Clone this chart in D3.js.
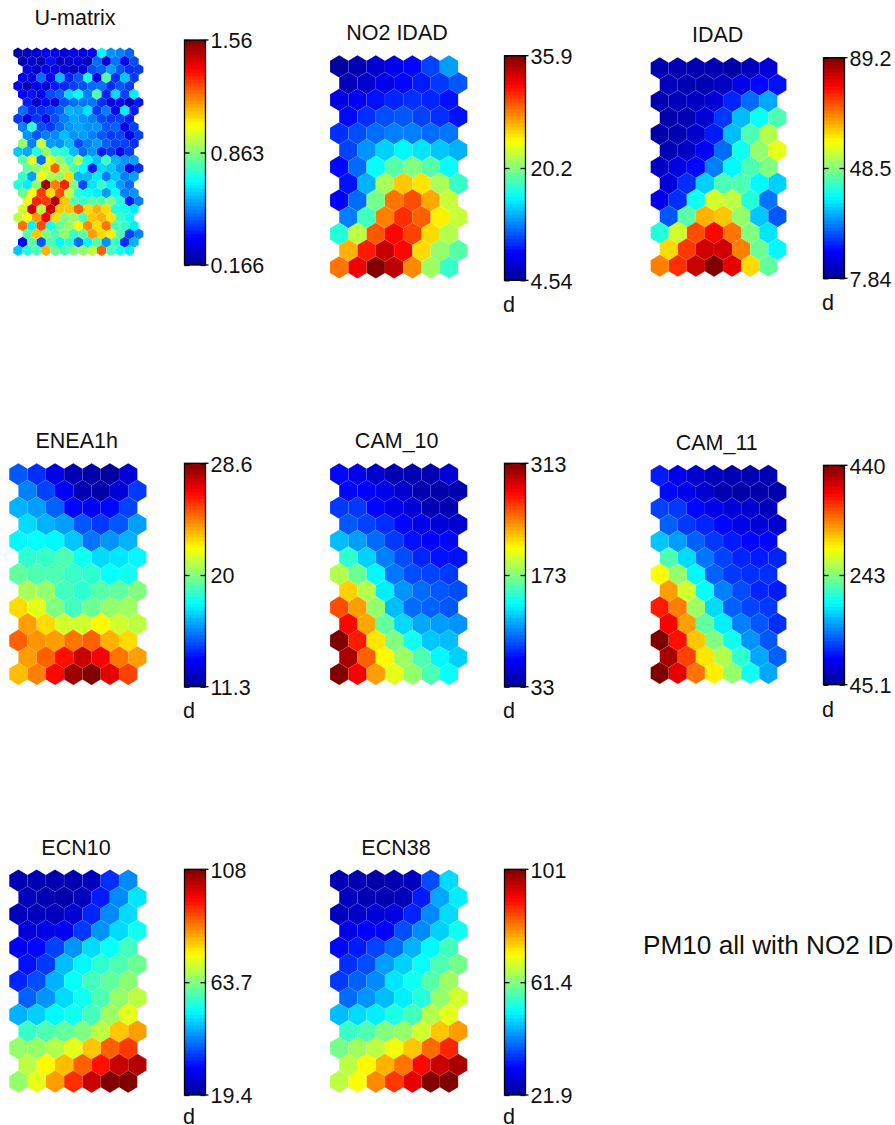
<!DOCTYPE html>
<html>
<head>
<meta charset="utf-8">
<script src="https://cdn.jsdelivr.net/npm/d3@7"></script>
<style type="text/css">
    body { margin: 0; background: #fff; }
    svg { display: block; }
    text { font-family: "Liberation Sans", Arial, sans-serif; fill: #111; }
</style>
</head>
<body>
<div id="viz"></div>
<script type="text/javascript">
// cell values are read as position on each plane's colourbar, 0 = bottom, 100 = top
var umatrixValues = [
    [3,6,7,11,10,8,10,9,11,37,27,25,22],
    [3,7,4,14,5,7,9,4,23,8,24,10,20],
    [10,7,11,11,8,6,9,20,22,28,21,17,18],
    [12,10,23,12,31,16,21,40,11,46,17,32,18],
    [9,3,10,9,15,16,19,20,23,24,17,21,18],
    [12,14,11,20,22,34,38,25,45,16,34,19,36],
    [15,7,13,9,20,23,24,24,17,9,11,6,14],
    [23,16,17,19,22,30,29,35,18,25,12,36,15],
    [18,9,18,11,20,25,29,27,25,20,18,19,15],
    [25,42,20,18,23,27,29,27,27,21,22,10,19],
    [27,21,25,26,31,27,28,25,21,18,19,9,19],
    [52,25,57,28,27,31,20,25,28,22,19,19,17],
    [32,29,41,52,43,41,31,23,27,15,18,10,18],
    [47,60,23,60,52,43,54,37,32,43,30,27,28],
    [47,52,58,78,55,45,38,15,34,32,27,10,17],
    [43,28,62,55,52,66,31,31,36,25,32,25,28],
    [41,36,52,97,75,84,50,20,35,43,36,28,23],
    [48,62,82,66,80,56,41,38,36,28,38,25,27],
    [60,84,82,95,68,46,43,46,46,50,41,15,25],
    [58,92,56,92,68,68,78,66,70,66,41,39,36],
    [56,62,72,88,66,50,52,45,68,70,65,43,38],
    [76,37,80,40,48,52,62,74,66,76,45,43,36],
    [46,68,50,45,52,43,47,72,66,64,45,19,25],
    [13,47,21,45,37,41,23,37,46,27,43,17,30],
    [32,41,45,70,48,45,50,52,56,78,45,39,36]
];
var no2Values = [
    [2,4,7,10,13,19,28],
    [5,7,10,13,15,18,21],
    [9,11,14,16,17,16,14],
    [13,17,20,21,19,17,14],
    [17,20,23,25,25,23,24],
    [19,27,33,37,35,32,30],
    [13,23,38,46,50,46,38],
    [14,30,54,68,65,54,43],
    [12,23,49,76,80,71,57],
    [25,44,75,83,78,64,57],
    [41,56,79,87,81,66,55],
    [70,85,93,87,66,52,46],
    [76,89,100,94,74,53,43]
];
var idadValues = [
    [4,4,4,4,3,5,8],
    [5,4,4,6,10,13,14],
    [4,5,6,8,16,23,29],
    [3,4,8,18,31,38,45],
    [3,4,7,15,31,45,55],
    [4,6,12,23,39,52,60],
    [6,9,13,25,37,45,50],
    [8,17,33,45,45,37,33],
    [10,17,39,58,56,41,24],
    [21,46,70,68,52,32,21],
    [41,58,80,87,76,50,35],
    [66,82,92,92,75,48,37],
    [75,83,93,100,90,66,47]
];
var eneaValues = [
    [21,17,10,4,3,2,8],
    [25,19,11,4,3,8,18],
    [30,28,22,13,12,13,19],
    [34,30,28,21,18,21,28],
    [37,38,37,32,24,27,30],
    [42,43,45,39,34,35,37],
    [47,45,45,43,42,38,39],
    [54,52,44,42,46,47,50],
    [66,60,50,44,48,52,53],
    [72,66,58,58,63,58,56],
    [78,73,72,76,78,70,66],
    [72,78,86,93,88,76,72],
    [69,75,87,97,100,90,81]
];
var cam10Values = [
    [13,10,7,4,4,4,8],
    [13,12,10,7,4,3,4],
    [18,18,13,10,8,4,4],
    [21,19,17,13,10,8,7],
    [31,28,23,18,14,12,13],
    [42,33,25,20,16,14,14],
    [55,48,37,24,20,19,18],
    [67,55,36,27,23,21,20],
    [80,72,52,31,23,22,21],
    [87,71,47,34,29,28,27],
    [100,85,65,50,39,32,31],
    [96,78,63,53,45,37,33],
    [100,88,72,60,52,45,38]
];
var cam11Values = [
    [15,10,7,5,4,4,4],
    [13,10,7,4,3,3,3],
    [19,18,13,10,8,7,5],
    [22,18,16,13,10,8,7],
    [32,28,22,18,15,13,13],
    [45,34,24,19,16,15,16],
    [62,52,37,22,18,17,17],
    [72,58,38,25,20,16,15],
    [85,75,53,34,22,19,18],
    [88,72,47,36,25,21,17],
    [100,86,68,50,39,27,21],
    [96,81,65,55,42,29,22],
    [100,90,76,64,52,39,29]
];
var ecn10Values = [
    [4,4,4,4,5,17,26],
    [5,4,3,5,15,26,35],
    [5,5,5,8,16,26,34],
    [8,10,11,18,27,34,39],
    [11,13,19,27,34,38,44],
    [14,18,31,37,42,45,48],
    [16,20,30,38,44,47,51],
    [22,27,34,39,45,52,56],
    [30,33,37,39,44,53,60],
    [43,45,47,50,56,68,72],
    [52,52,55,60,68,78,82],
    [56,63,69,78,86,93,95],
    [52,60,72,83,93,100,100]
];
var ecn38Values = [
    [4,4,3,4,5,20,34],
    [5,4,4,5,15,29,36],
    [5,6,8,9,16,26,34],
    [10,12,12,20,26,33,39],
    [13,15,19,23,30,37,44],
    [17,20,28,33,38,45,49],
    [18,22,26,35,39,46,53],
    [23,27,31,36,41,52,58],
    [31,34,36,40,44,55,60],
    [43,45,50,52,58,68,72],
    [49,53,56,61,68,77,84],
    [56,63,70,76,87,93,96],
    [56,62,74,82,90,100,100]
];

var planeNames = ["U-matrix", "NO2 IDAD", "IDAD", "ENEA1h", "CAM_10", "CAM_11", "ECN10", "ECN38"];
var planeValues = [umatrixValues, no2Values, idadValues, eneaValues, cam10Values, cam11Values, ecn10Values, ecn38Values];
var tickLabels = [
    ["0.166", "0.863", "1.56"],
    ["4.54", "20.2", "35.9"],
    ["7.84", "48.5", "89.2"],
    ["11.3", "20", "28.6"],
    ["33", "173", "313"],
    ["45.1", "243", "440"],
    ["19.4", "63.7", "108"],
    ["21.9", "61.4", "101"]
];
var unitLabel = "d";
var sideNote = "PM10 all with NO2 ID";

// page layout, one entry per plane
var layout = [
    {x0: 18, x1: 129.4, y0: 53, y1: 250.5, titleX: 75, titleY: 25, barX: 184.5, barTop: 40, barBottom: 265, unitY: null},
    {x0: 339.2, x1: 449, y0: 66.3, y1: 267.3, titleX: 397, titleY: 40, barX: 504.5, barTop: 55.7, barBottom: 280.3, unitY: 311.5},
    {x0: 659.7, x1: 768.3, y0: 68.3, y1: 265.7, titleX: 717.7, titleY: 42, barX: 823.5, barTop: 57.7, barBottom: 278.3, unitY: 310},
    {x0: 18.4, x1: 128.2, y0: 474.3, y1: 674, titleX: 76.7, titleY: 447.7, barX: 184.5, barTop: 463.3, barBottom: 686.7, unitY: 717.5},
    {x0: 339.2, x1: 449, y0: 474.3, y1: 674, titleX: 396.7, titleY: 447.7, barX: 504.5, barTop: 463.3, barBottom: 686.7, unitY: 717.5},
    {x0: 659.7, x1: 768.3, y0: 475.7, y1: 673, titleX: 716.7, titleY: 450, barX: 823.5, barTop: 465.3, barBottom: 684.7, unitY: 716.5},
    {x0: 18.4, x1: 128.2, y0: 880.7, y1: 1081.7, titleX: 76, titleY: 855, barX: 184.5, barTop: 869.3, barBottom: 1095, unitY: 1123.5},
    {x0: 339.2, x1: 449, y0: 880.7, y1: 1081.7, titleX: 396, titleY: 855, barX: 504.5, barTop: 869.3, barBottom: 1095, unitY: 1123.5}
];
var barWidth = 21;
var levels = 64;

var jet = d3.scaleLinear()
    .domain([0, 12.5, 37.5, 62.5, 87.5, 100])
    .range(["#00008f", "#0000ff", "#00ffff", "#ffff00", "#ff0000", "#800000"])
    .clamp(true);

var svg = d3.select("#viz")
    .append("svg")
    .attr("width", 895)
    .attr("height", 1125);

// hexagon outline in grid units: columns wide, rows high
var hexShape = [[0, -2/3], [0.5, -1/3], [0.5, 1/3], [0, 2/3], [-0.5, 1/3], [-0.5, -1/3]];

planeValues.forEach(function (values, p) {
    var box = layout[p];
    var g = svg.append("g");
    var rows = values.length;
    var cols = values[0].length;
    var x = d3.scaleLinear().domain([0, cols - 1]).range([box.x0, box.x1]);
    var y = d3.scaleLinear().domain([0, rows - 1]).range([box.y0, box.y1]);
    // the U-matrix has twice the rows, so its shift repeats every 4 rows
    var rowShift = function (r) {
        if (rows <= 13) return (r % 2) * 0.5;
        return [0, 0.5, 1, 0.5][r % 4];
    };

    var cells = [];
    values.forEach(function (row, r) {
        row.forEach(function (v, c) {
            cells.push({r: r, c: c, v: v});
        });
    });

    var hexLine = d3.line();
    g.selectAll("path.cell")
        .data(cells)
        .enter()
        .append("path")
        .attr("class", "cell")
        .attr("d", function (d) {
            return hexLine(hexShape.map(function (h) {
                return [x(d.c + rowShift(d.r) + h[0]), y(d.r + h[1])];
            })) + "Z";
        })
        .style("fill", function (d) { return jet(d.v); })
        .style("stroke", "#ffffff")
        .style("stroke-opacity", rows > 13 ? 0.06 : 0.12)
        .style("stroke-width", 0.5);

    g.append("text")
        .attr("x", box.titleX)
        .attr("y", box.titleY)
        .attr("text-anchor", "middle")
        .style("font-size", "21.5px")
        .text(planeNames[p]);

    // colourbar
    var labels = tickLabels[p];
    var barY = d3.scaleLinear().domain([0, 2]).range([box.barBottom, box.barTop]);
    var barLevel = d3.scaleLinear().domain([0, levels]).range([box.barBottom, box.barTop]);
    g.selectAll("rect.level")
        .data(d3.range(levels))
        .enter()
        .append("rect")
        .attr("class", "level")
        .attr("x", box.barX)
        .attr("width", barWidth)
        .attr("y", function (d) { return barLevel(d + 1); })
        .attr("height", function (d) { return barLevel(d) - barLevel(d + 1) + (d === 0 ? 0 : 1); })
        .style("fill", function (d) { return jet((d + 0.5) / levels * 100); });

    g.append("rect")
        .attr("x", box.barX)
        .attr("y", box.barTop)
        .attr("width", barWidth)
        .attr("height", box.barBottom - box.barTop)
        .style("fill", "none")
        .style("stroke", "#000")
        .style("stroke-width", 1.3);

    var right = d3.axisRight(barY)
        .tickValues([0, 1, 2])
        .tickSize(-5)
        .tickPadding(5)
        .tickFormat(function (d) { return labels[d]; });
    var rightAxis = g.append("g")
        .attr("transform", "translate(" + (box.barX + barWidth) + ",0)")
        .call(right);
    rightAxis.select(".domain").remove();
    rightAxis.selectAll("line").style("stroke", "#000").style("stroke-width", 1.3);
    rightAxis.selectAll("text")
        .attr("dy", "0.36em")
        .style("font-family", "\"Liberation Sans\", Arial, sans-serif")
        .style("font-size", "21.5px")
        .style("fill", "#111");

    var left = d3.axisLeft(barY)
        .tickValues([0, 1, 2])
        .tickSize(-5)
        .tickFormat("");
    var leftAxis = g.append("g")
        .attr("transform", "translate(" + box.barX + ",0)")
        .call(left);
    leftAxis.select(".domain").remove();
    leftAxis.selectAll("line").style("stroke", "#000").style("stroke-width", 1.3);

    // short outward stubs at the top and bottom of the bar
    g.selectAll("line.stub")
        .data([0, 2])
        .enter()
        .append("line")
        .attr("class", "stub")
        .attr("x1", box.barX + barWidth)
        .attr("x2", box.barX + barWidth + 3)
        .attr("y1", function (d) { return barY(d); })
        .attr("y2", function (d) { return barY(d); })
        .style("stroke", "#000")
        .style("stroke-width", 1.3);

    if (box.unitY !== null) {
        g.append("text")
            .attr("x", box.barX - 1.5)
            .attr("y", box.unitY)
            .style("font-size", "21.5px")
            .text(unitLabel);
    }
});

svg.append("text")
    .attr("x", 643)
    .attr("y", 953.5)
    .style("font-size", "26.2px")
    .text(sideNote);
</script>
</body>
</html>
